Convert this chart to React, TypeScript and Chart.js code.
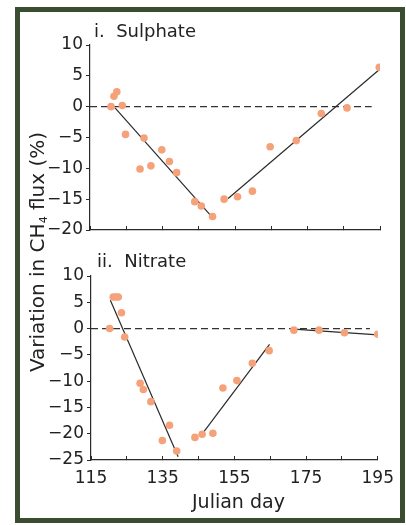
import React, { useEffect, useRef } from 'react';
import { Chart, registerables } from 'chart.js';

Chart.register(...registerables);

// ---- Data ----
const sulphateDays = [120.8, 121.6, 122.4, 123.9, 124.8, 128.8, 129.9, 131.8, 134.8, 136.9, 138.9, 143.9, 145.7, 148.8, 152.0, 155.7, 159.8, 164.7, 171.9, 178.8, 185.9, 194.8];
const sulphateFlux = [0, 1.7, 2.4, 0.2, -4.5, -10.1, -5.1, -9.6, -7.0, -8.9, -10.7, -15.4, -16.1, -17.8, -15.0, -14.6, -13.7, -6.5, -5.5, -1.1, -0.2, 6.4];
const sulphateFit1Days = [121.9, 148.2];
const sulphateFit1Flux = [-0.2, -17.6];
const sulphateFit2Days = [153.1, 194.6];
const sulphateFit2Flux = [-14.9, 5.9];

const nitrateDays = [120.2, 121.2, 121.9, 122.6, 123.5, 124.4, 128.7, 129.6, 131.7, 134.9, 136.9, 138.9, 144.0, 146.0, 149.0, 151.8, 155.7, 160.0, 164.7, 171.6, 178.6, 185.7, 195.0];
const nitrateFlux = [0, 6.0, 6.0, 6.0, 3.0, -1.6, -10.4, -11.6, -13.9, -21.3, -18.4, -23.3, -20.7, -20.1, -19.9, -11.3, -9.9, -6.6, -4.2, -0.3, -0.3, -0.8, -1.1];
const nitrateFit1Days = [120.4, 139.3];
const nitrateFit1Flux = [5.4, -24.4];
const nitrateFit2Days = [146.2, 164.8];
const nitrateFit2Flux = [-19.9, -3.0];
const nitrateFit3Days = [171.6, 195.0];
const nitrateFit3Flux = [-0.1, -1.2];

const sulphateZeroDays = [115, 192.7];
const nitrateZeroDays = [115, 192.8];
const zeroFlux = [0, 0];

const xLabelDays = [115, 135, 155, 175, 195];
const sulphateYRange = [-20, 10];
const nitrateYRange = [-25, 10];

const FONT = "'DejaVu Sans', sans-serif";
const DOT = 'rgb(245,162,122)';
const INK = '#2a2a2a';

const pts = (xs: number[], ys: number[]) => xs.map((x, i) => ({ x, y: ys[i] }));

function fmtY(v: number) {
  return v < 0 ? '\u2212' + Math.abs(v) : String(v);
}

function buildConfig(
  days: number[], flux: number[], fits: Array<[number[], number[]]>, zeroDays: number[],
  yRange: number[], showXLabels: boolean, pad: any, xHeight: number
): any {
  const datasets: any[] = [
    {
      data: pts(days, flux),
      backgroundColor: DOT,
      borderColor: DOT,
      borderWidth: 0,
      pointRadius: 3.8,
      showLine: false,
    },
  ];
  fits.forEach(([xs, ys]) => {
    datasets.push({
      data: pts(xs, ys),
      showLine: true,
      borderColor: INK,
      borderWidth: 1.2,
      pointRadius: 0,
      fill: false,
    });
  });
  datasets.push({
    data: pts(zeroDays, zeroFlux),
    showLine: true,
    borderColor: '#333',
    borderWidth: 1.3,
    borderDash: [7, 4],
    pointRadius: 0,
    fill: false,
  });
  return {
    type: 'scatter',
    data: { datasets },
    options: {
      responsive: false,
      animation: false,
      events: [],
      layout: { padding: pad },
      plugins: { legend: { display: false }, tooltip: { enabled: false }, title: { display: false } },
      scales: {
        x: {
          type: 'linear',
          min: 115,
          max: 195,
          afterFit: (s: any) => { s.height = xHeight; },
          afterBuildTicks: (s: any) => {
            const t = [];
            for (let v = 115; v <= 195; v += 10) t.push({ value: v });
            s.ticks = t;
          },
          grid: { drawOnChartArea: false, drawTicks: true, tickLength: -4, color: INK, lineWidth: 1 },
          border: { color: INK, width: 1.2 },
          ticks: {
            autoSkip: false,
            maxRotation: 0,
            padding: 12,
            color: '#222',
            font: { family: FONT, size: 17 },
            callback: (v: any) => (showXLabels && xLabelDays.includes(Number(v)) ? String(v) : ''),
          },
        },
        y: {
          type: 'linear',
          min: yRange[0],
          max: yRange[1],
          afterFit: (s: any) => { s.width = 90; },
          grid: { drawOnChartArea: false, drawTicks: true, tickLength: 4, color: INK, lineWidth: 1 },
          border: { color: INK, width: 1.2 },
          ticks: {
            stepSize: 5,
            padding: 3,
            color: '#222',
            font: { family: FONT, size: 17 },
            callback: (v: any) => fmtY(Number(v)),
          },
        },
      },
    },
  };
}

function ChartCanvas({ config, top, height }: { config: any; top: number; height: number }) {
  const ref = useRef<HTMLCanvasElement | null>(null);
  useEffect(() => {
    if (!ref.current) return;
    const c = new Chart(ref.current, config);
    return () => c.destroy();
  }, [config]);
  return (
    <canvas
      ref={ref}
      width={406}
      height={height}
      style={{ position: 'absolute', left: 0, top, width: 406, height }}
    />
  );
}

const topConfig = buildConfig(
  sulphateDays, sulphateFlux,
  [[sulphateFit1Days, sulphateFit1Flux], [sulphateFit2Days, sulphateFit2Flux]],
  sulphateZeroDays, sulphateYRange, false,
  { left: 0, top: 45, right: 26, bottom: 10 }, 10
);

const bottomConfig = buildConfig(
  nitrateDays, nitrateFlux,
  [[nitrateFit1Days, nitrateFit1Flux], [nitrateFit2Days, nitrateFit2Flux], [nitrateFit3Days, nitrateFit3Flux]],
  nitrateZeroDays, nitrateYRange, true,
  { left: 1, top: 26, right: 25, bottom: 35 }, 30
);

const textBase: React.CSSProperties = {
  position: 'absolute',
  fontFamily: FONT,
  color: '#222',
  whiteSpace: 'pre',
};

export default function App() {
  return (
    <div style={{ position: 'absolute', left: 0, top: 0, width: 406, height: 525, background: '#fff', overflow: 'hidden' }}>
      <div
        style={{
          position: 'absolute', left: 15, top: 7, width: 390, height: 516,
          border: '5px solid #3b4d31', boxSizing: 'border-box', background: '#fff',
        }}
      />
      <ChartCanvas config={topConfig} top={0} height={250} />
      <ChartCanvas config={bottomConfig} top={250} height={275} />
      <div style={{ ...textBase, left: 94, top: 22, fontSize: 18, lineHeight: '18px' }}>{'i.  Sulphate'}</div>
      <div style={{ ...textBase, left: 97, top: 252, fontSize: 18, lineHeight: '18px' }}>{'ii.  Nitrate'}</div>
      <div style={{ ...textBase, left: 192, top: 492, fontSize: 19, lineHeight: '19px' }}>Julian day</div>
      <div
        style={{
          ...textBase,
          left: 37 - 140, top: 252 - 12, width: 280, height: 24, lineHeight: '24px',
          fontSize: 20, textAlign: 'center', transform: 'rotate(-90deg)',
        }}
      >
        Variation in CH<sub style={{ fontSize: 11, verticalAlign: -3, lineHeight: 0 }}>4</sub> flux (%)
      </div>
    </div>
  );
}
